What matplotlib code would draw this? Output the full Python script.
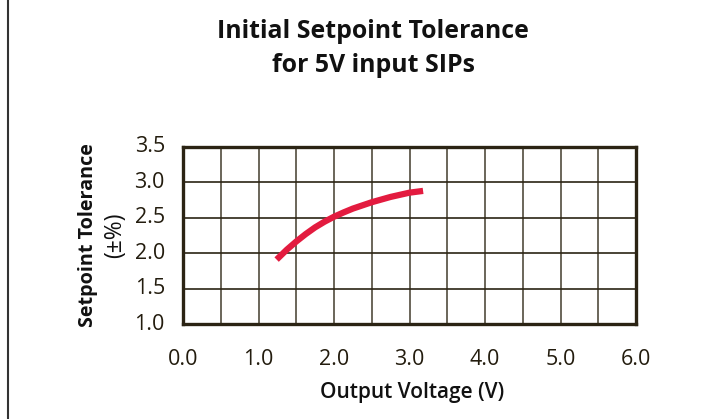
import matplotlib.pyplot as plt
import matplotlib.lines as mlines

volts = [1.24, 1.375, 1.5, 1.625, 1.75, 1.875, 2.0, 2.125, 2.25, 2.5, 2.75, 3.0, 3.18]
tolerance = [1.91, 2.05, 2.165, 2.27, 2.365, 2.445, 2.515, 2.575, 2.63, 2.72, 2.795, 2.855, 2.88]
xticks = [0, 1, 2, 3, 4, 5, 6]
yticks = [1.0, 1.5, 2.0, 2.5, 3.0, 3.5]

ink = '#2b2414'
font = ['Open Sans', 'DejaVu Sans']

fig = plt.figure(figsize=(7.14, 4.19), dpi=100)
ax = fig.add_axes([183 / 714, 1 - 324 / 419, 453 / 714, 177 / 419])

ax.plot(volts, tolerance, color='#e31b3f', lw=4.5, solid_capstyle='butt',
        solid_joinstyle='round', zorder=3)

ax.set_xlim(0, 6)
ax.set_ylim(1.0, 3.5)
ax.set_xticks([x / 2 for x in range(13)])
ax.set_yticks(yticks)
ax.grid(True, axis='y', color=ink, lw=1.2)
ax.grid(True, axis='x', color='#5f594c', lw=1.3)
ax.tick_params(length=0, pad=0)
ax.set_xticklabels([])
ax.set_yticklabels([])
for x in xticks:
    ax.text(x, -0.2, '%.1f' % x, transform=ax.get_xaxis_transform(), ha='center', va='center',
            fontsize=15.5, color='#231c0e', family=font)
for y in yticks:
    ax.text(-0.04, y, '%.1f' % y, transform=ax.get_yaxis_transform(), ha='right', va='center',
            fontsize=15.5, color='#231c0e', family=font)
for s in ax.spines.values():
    s.set_linewidth(2.4)
    s.set_color(ink)

fig.text(412 / 714, 1 - 392 / 419, 'Output Voltage (V)', ha='center', va='center',
         fontsize=15, fontweight='semibold', family=font, color='#111111')
fig.text(88 / 714, 1 - 235 / 419, 'Setpoint Tolerance', ha='center', va='center', rotation=90,
         fontsize=14.2, fontweight='bold', family=font, color='#111111')
fig.text(115 / 714, 1 - 235 / 419, '(±%)', ha='center', va='center', rotation=90,
         fontsize=16.5, fontweight='normal', family=font, color='#111111')

fig.text(373 / 714, 1 - 31 / 419, 'Initial Setpoint Tolerance', ha='center', va='center',
         fontsize=17.9, fontweight='bold', family=font, color='#111111')
fig.text(373 / 714, 1 - 66 / 419, 'for 5V input SIPs', ha='center', va='center',
         fontsize=17.9, fontweight='bold', family=font, color='#111111')

fig.add_artist(mlines.Line2D([8 / 714, 8 / 714], [0, 1], color='#333333', lw=1.5,
                             transform=fig.transFigure))

fig.savefig('out.png', dpi=100)
